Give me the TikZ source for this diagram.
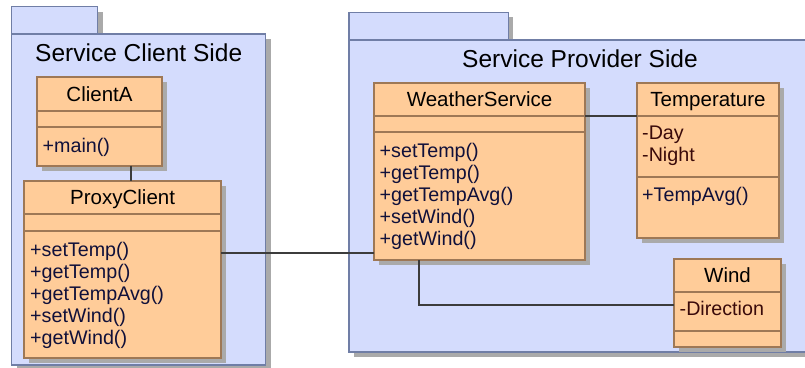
\documentclass[tikz,border=0pt]{standalone}
\usepackage{fontspec}
\setmainfont{Liberation Sans}

\definecolor{pkgfill}{RGB}{212,220,253}
\definecolor{pkgedge}{RGB}{112,126,166}
\definecolor{clsfill}{RGB}{255,204,153}
\definecolor{clsedge}{RGB}{158,120,86}
\definecolor{shadowc}{RGB}{170,170,170}
\definecolor{opcolor}{RGB}{16,16,58}
\definecolor{attrcolor}{RGB}{58,10,10}
\definecolor{linkc}{RGB}{60,60,60}

% one UML class: name, left, top, right, bottom, name divider, attribute divider, title
\newcommand\umlclass[8]{%
  \fill[shadowc] (#2+5,#3+5) rectangle (#4+5,#5+5);
  \node[classbox, minimum width={#4-#2}, minimum height={#5-#3}, anchor=north west] (#1) at (#2,#3) {};
  \draw[classdiv] (#2,#6) -- (#4,#6) (#2,#7) -- (#4,#7);
  \node[clsname, anchor=base] (#1-title) at ({(#2+#4)/2},{(#3+#6)/2+7.3}) {#8};
}

\begin{document}
\begin{tikzpicture}[x=1pt,y=-1pt,
  pkgbox/.style={draw=pkgedge, fill=pkgfill, line width=1.5pt, inner sep=0pt, outer sep=0pt},
  pkgtitle/.style={font=\fontsize{24.5}{28}\selectfont, text=black, inner sep=0pt},
  classbox/.style={draw=clsedge, fill=clsfill, line width=1.8pt, inner sep=0pt, outer sep=0pt},
  classdiv/.style={draw=clsedge, line width=1.8pt},
  clsname/.style={font=\fontsize{20.5}{23}\selectfont, text=black, inner sep=0pt},
  op/.style={font=\fontsize{19.7}{22}\selectfont, text=opcolor, inner sep=0pt, anchor=base west},
  attr/.style={font=\fontsize{19.7}{22}\selectfont, text=attrcolor, inner sep=0pt, anchor=base west},
  link/.style={draw=linkc, line width=1.5pt}]
\useasboundingbox (0,0) rectangle (805,367);

% ---- package: Service Client Side ----
\fill[shadowc] (11.7+5,6.7+5) rectangle (97.7+5,34+5);
\node[pkgbox, minimum width=86, minimum height=27.3, anchor=north west] (cltab) at (11.7,6.7) {};
\fill[shadowc] (11.7+5,34+5) rectangle (265.7+5,365+5);
\node[pkgbox, minimum width=254, minimum height=331, anchor=north west] (clientpkg) at (11.7,34) {};
\node[pkgtitle, anchor=base] (clientpkg-title) at (138.7,61.5) {Service Client Side};

% ---- package: Service Provider Side ----
\fill[shadowc] (349+5,12.3+5) rectangle (508.3+5,40+5);
\node[pkgbox, minimum width=159.3, minimum height=27.7, anchor=north west] (prvtab) at (349,12.3) {};
\fill[shadowc] (349+5,40+5) rectangle (811+5,352+5);
\node[pkgbox, minimum width=462, minimum height=312, anchor=north west] (providerpkg) at (349,40) {};
\node[pkgtitle, anchor=base] (providerpkg-title) at (580,67.5) {Service Provider Side};

% ---- classes ----
\umlclass{ClientA}{36.7}{77.3}{162.3}{165.7}{110.7}{127.3}{ClientA}
\node[op] (ca-m1) at (42.5,152.7) {+main()};

\umlclass{ProxyClient}{24.3}{181}{221}{358.3}{214}{231}{ProxyClient}
\foreach \t [count=\i] in {{+setTemp()},{+getTemp()},{+getTempAvg()},{+setWind()},{+getWind()}}
  \node[op] (pc-m\i) at (30,{256+22*(\i-1)}) {\t};

\umlclass{WeatherService}{374}{83.3}{585}{260}{115.7}{132.3}{WeatherService}
\foreach \t [count=\i] in {{+setTemp()},{+getTemp()},{+getTempAvg()},{+setWind()},{+getWind()}}
  \node[op] (ws-m\i) at (379.5,{157.5+22*(\i-1)}) {\t};

\umlclass{Temperature}{636.7}{83.3}{779.3}{237.7}{116}{177}{Temperature}
\node[attr] (tp-a1) at (642,139.5) {-Day};
\node[attr] (tp-a2) at (642,161.7) {-Night};
\node[op] (tp-m1) at (642,201.7) {+TempAvg()};

\umlclass{Wind}{674}{259}{781}{346.7}{291.7}{331}{Wind}
\node[attr] (wd-a1) at (679.5,315) {-Direction};

% ---- associations ----
\coordinate (cax) at (131,0);
\coordinate (pcy) at (0,253);
\coordinate (tpy) at (0,116);
\coordinate (wsx) at (419,0);
\coordinate (wdy) at (0,305);
\draw[link] (ClientA.south -| cax) -- (ProxyClient.north -| cax);
\draw[link] (ProxyClient.east |- pcy) -- (WeatherService.west |- pcy);
\draw[link] (WeatherService.east |- tpy) -- (Temperature.west |- tpy);
\draw[link] (WeatherService.south -| wsx) |- (Wind.west |- wdy);
\end{tikzpicture}
\end{document}
